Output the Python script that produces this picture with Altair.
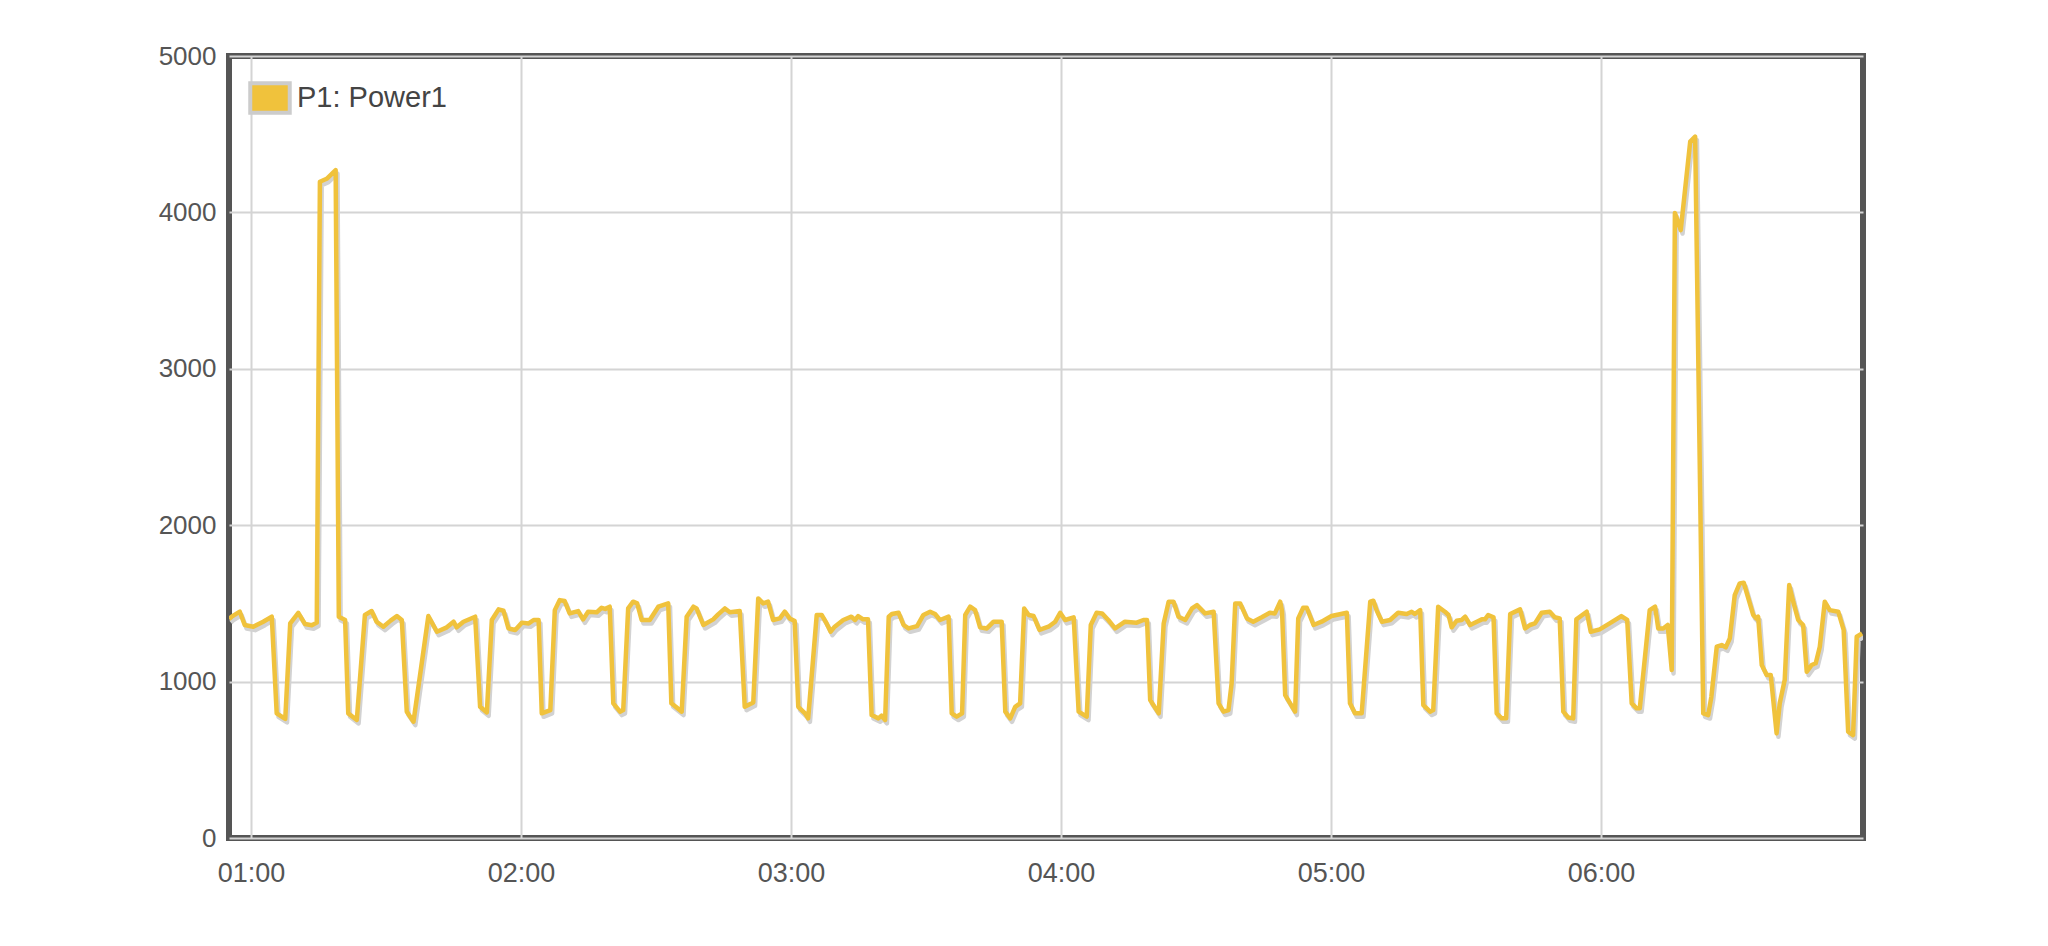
import altair as alt
import pandas as pd

# minutes after 01:00 and power readings (W)
T = [-4.9, -4.3, -2.5, -1.4, 0.5, 2.7, 4.6, 5.7, 7.6, 8.7, 10.5, 12.0, 13.5, 14.6,
     15.3, 16.8, 18.8, 19.5, 20.9, 21.6, 23.5, 25.3, 26.8, 27.9, 29.4, 31.0, 32.4,
     33.5, 34.6, 36.1, 39.4, 41.3, 43.5, 45.0, 45.7, 47.2, 49.8, 50.9, 52.4, 53.5,
     55.0, 56.1, 57.2, 58.7, 60.2, 61.7, 62.8, 63.9, 64.6, 66.5, 67.5, 68.6, 69.7,
     70.8, 72.7, 73.8, 74.9, 76.8, 77.9, 78.7, 79.7, 80.5, 82.0, 82.7, 83.8, 84.9,
     85.8, 86.8, 88.6, 90.5, 92.7, 93.4, 95.7, 96.8, 98.3, 99.0, 100.5, 102.7, 103.8,
     105.3, 106.4, 108.6, 109.7, 111.6, 112.7, 113.8, 114.9, 116.0, 117.5, 118.6,
     119.7, 120.8, 121.6, 123.1, 123.8, 125.7, 126.8, 127.9, 128.8, 129.7, 131.6,
     133.4, 134.2, 134.9, 136.0, 137.1, 137.9, 139.4, 140.1, 140.9, 141.7, 142.4,
     143.9, 145.0, 146.1, 148.0, 149.4, 150.9, 152.0, 153.1, 155.0, 155.7, 156.8,
     158.0, 158.7, 159.8, 160.9, 162.0, 163.5, 165.0, 166.8, 167.6, 168.7, 169.8,
     170.9, 171.8, 172.8, 173.9, 175.2, 177.2, 178.7, 179.8, 180.9, 182.8, 183.9,
     185.7, 186.6, 187.9, 189.1, 190.5, 192.0, 194.2, 196.8, 198.3, 199.1, 199.8,
     201.7, 202.8, 203.9, 205.0, 206.1, 207.6, 209.1, 210.2, 212.0, 213.9, 215.0,
     216.1, 217.2, 217.9, 218.7, 219.8, 221.3, 222.7, 224.6, 226.4, 227.5, 228.7,
     229.1, 229.8, 230.9, 232.0, 232.7, 233.8, 234.6, 236.1, 237.9, 240.1, 243.5,
     244.2, 245.3, 246.8, 248.7, 249.4, 250.1, 251.3, 253.1, 254.9, 256.8, 257.9,
     258.6, 259.8, 260.5, 262.0, 262.7, 263.8, 265.3, 266.1, 266.8, 267.9, 269.0,
     269.8, 270.9, 272.4, 273.5, 274.2, 274.9, 276.1, 276.8, 277.9, 278.9, 279.8,
     282.0, 283.1, 284.2, 285.3, 286.8, 288.6, 289.7, 290.8, 291.6, 292.7, 293.8,
     294.5, 296.8, 297.7, 299.7, 301.9, 304.5, 305.8, 306.8, 307.9, 308.6, 310.8,
     312.0, 312.7, 313.8, 314.8, 315.7, 316.4, 317.7, 319.8, 320.9, 322.7, 323.8,
     324.5, 325.7, 326.8, 327.7, 328.6, 329.7, 330.8, 331.7, 333.8, 334.5, 334.9,
     335.7, 336.8, 337.7, 339.0, 339.7, 340.8, 341.8, 342.7, 343.8, 344.9, 345.7,
     346.8, 347.7, 348.6, 349.7, 350.8, 352.7, 353.9, 354.9, 356.0, 356.8, 358.0]

V = [1400, 1415, 1447, 1362, 1351, 1383, 1415, 797, 761, 1372, 1440, 1368, 1360, 1377,
     4196, 4215, 4270, 1415, 1394, 797, 755, 1426, 1451, 1383, 1351, 1390, 1419,
     1394, 808, 744, 1419, 1319, 1347, 1383, 1347, 1383, 1415, 839, 803, 1394,
     1462, 1453, 1340, 1330, 1377, 1372, 1394, 1394, 797, 818, 1457, 1521, 1515,
     1436, 1451, 1398, 1447, 1443, 1472, 1465, 1479, 861, 808, 818, 1468, 1511,
     1500, 1394, 1394, 1479, 1500, 861, 808, 1415, 1479, 1468, 1362, 1398, 1430,
     1468, 1443, 1451, 839, 867, 1532, 1500, 1511, 1394, 1404, 1447,
     1404, 1387, 839, 797, 765, 1426, 1426, 1372, 1319, 1351, 1394,
     1415, 1394, 1419, 1398, 1398, 786, 765, 782, 755, 1415, 1432,
     1440, 1362, 1340, 1355, 1426, 1447, 1432, 1394, 1415, 797, 776,
     797, 1426, 1479, 1457, 1347, 1340, 1383, 1383, 808, 765, 839,
     861, 1468, 1426, 1419, 1330, 1351, 1383, 1440, 1394, 1411, 808,
     776, 1362, 1440, 1436, 1394, 1340, 1383, 1377, 1394, 1394, 882,
     797, 1372, 1511, 1511, 1415, 1394, 1468, 1489, 1436, 1447, 861,
     808, 818, 989, 1500, 1500, 1404, 1383, 1411, 1440, 1436, 1511,
     1450, 914, 861, 808, 1404, 1472, 1472, 1362, 1383, 1419, 1440,
     861, 797, 797, 1511, 1517, 1457, 1383, 1394, 1440, 1432, 1447,
     1432, 1457, 850, 808, 818, 1479, 1447, 1426, 1347, 1389, 1394,
     1415, 1362, 1383, 1398, 1398, 1426, 1411, 797, 765, 765, 1432,
     1462, 1340, 1362, 1372, 1440, 1447, 1411, 1404, 808, 771, 765,
     1398, 1447, 1319, 1334, 1372, 1419, 1394, 861, 829, 829, 1457,
     1479, 1340, 1340, 1362, 1074, 3996, 3887, 4452, 4484, 797, 786,
     903, 1223, 1234, 1219, 1276, 1553, 1628, 1632, 1426, 1404, 1415,
     1106, 1042, 1042, 669, 861, 1010, 1617, 1511, 1394, 1362, 1063,
     1106, 1117, 1223, 1511, 1457, 1447, 1330, 680, 658, 1287, 1308]

SERIES = ["P1: Power1"]
Y_TICKS = [0, 1000, 2000, 3000, 4000, 5000]
HOUR_TICKS = [0, 60, 120, 180, 240, 300]
X_DOMAIN = [-4.9, 358.2]
Y_DOMAIN = [0, 5000]

YELLOW = "#F0C23C"
FONT = "Liberation Sans"

df = pd.DataFrame({"t": T, "v": V})
legend_df = pd.DataFrame({"series": SERIES})

xscale = alt.Scale(domain=X_DOMAIN, nice=False, zero=False)
yscale = alt.Scale(domain=Y_DOMAIN, nice=False)

xaxis = alt.Axis(
    values=HOUR_TICKS,
    labelExpr="timeFormat(datetime(2024, 0, 1, 1, datum.value, 0, 0), '%H:%M')",
    title=None, ticks=False, domain=False, grid=True,
    gridColor="#d4d4d4", gridWidth=2,
    labelFont=FONT, labelFontSize=27, labelColor="#555555", labelPadding=22,
)
yaxis = alt.Axis(
    values=Y_TICKS, format="d", title=None, ticks=False, domain=False, grid=True,
    gridColor="#d4d4d4", gridWidth=2,
    labelFont=FONT, labelFontSize=26, labelColor="#555555", labelPadding=13,
)

base = alt.Chart(df)

shadow = base.transform_calculate(
    ts="datum.t + 0.4", vs="datum.v - 22"
).mark_line(color="#d2d2d2", strokeWidth=4.5, clip=True, strokeJoin="round").encode(
    x=alt.X("ts:Q", scale=xscale, axis=xaxis),
    y=alt.Y("vs:Q", scale=yscale, axis=yaxis),
)

line = base.mark_line(color=YELLOW, strokeWidth=4.5, clip=True, strokeJoin="round").encode(
    x=alt.X("t:Q", scale=xscale, axis=xaxis),
    y=alt.Y("v:Q", scale=yscale, axis=yaxis),
)

legend_layer = alt.Chart(legend_df).mark_square(opacity=0, filled=True).encode(
    fill=alt.Fill(
        "series:N",
        scale=alt.Scale(domain=SERIES, range=[YELLOW]),
        legend=alt.Legend(
            title=None, orient="none", legendX=24, legendY=25, padding=0,
            symbolType="M-1.339,-1L1.339,-1L1.339,1L-1.339,1Z",
            symbolSize=870, symbolStrokeColor="#cccccc", symbolStrokeWidth=4,
            symbolOpacity=1, symbolFillColor=YELLOW,
            labelFont=FONT, labelFontSize=29, labelColor="#444444", labelOffset=10,
        ),
    )
)

chart = alt.layer(shadow, line, legend_layer).properties(
    width=1634, height=782,
    autosize=alt.AutoSizeParams(type="none"),
    padding={"left": 221, "top": 48, "right": 100, "bottom": 90},
    background="white",
).configure_view(stroke="#555555", strokeWidth=6)

chart.save("out.html", embed_options={"renderer": "svg", "actions": False})
